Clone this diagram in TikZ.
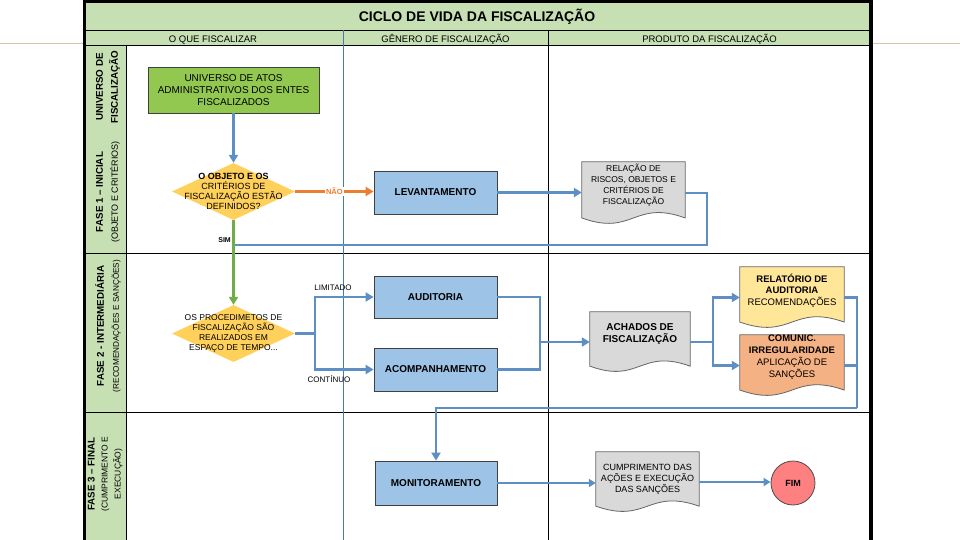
\documentclass[tikz,border=0pt]{standalone}
\usepackage{fontspec}
\setmainfont{Liberation Sans}
\usetikzlibrary{positioning,calc,shapes.geometric,backgrounds,arrows.meta}
\definecolor{bandgreen}{RGB}{198,224,180}
\definecolor{boxgreen}{RGB}{146,200,80}
\definecolor{boxblue}{RGB}{157,195,230}
\definecolor{decisionfill}{RGB}{255,208,90}
\definecolor{docgray}{RGB}{217,217,217}
\definecolor{docyellow}{RGB}{255,230,153}
\definecolor{docorange}{RGB}{244,177,131}
\definecolor{endred}{RGB}{255,128,128}
\definecolor{flowblue}{RGB}{94,143,196}
\definecolor{flowgreen}{RGB}{112,173,71}
\definecolor{floworange}{RGB}{237,125,49}
\definecolor{laneblue}{RGB}{70,120,180}
\definecolor{slideline}{RGB}{215,195,170}

\tikzset{
  procbox/.style={draw=black!75, line width=0.8pt, fill=boxblue, inner sep=0pt,
    minimum width=123pt, minimum height=43pt, font=\fontsize{10}{12}\selectfont\bfseries},
  docnode/.style={inner sep=0pt, align=center},
  docline/.style={draw=black!60, line width=0.8pt},
  decision/.style={diamond, fill=decisionfill, inner sep=0pt, minimum width=123pt, minimum height=57pt},
  dtext/.style={align=center, inner sep=0pt},
  flowline/.style={draw=flowblue, line width=2.6pt},
  flow/.style={flowline, -{Triangle[length=8pt,width=9pt]}},
  thinflow/.style={draw=flowblue, line width=1.8pt, -{Triangle[length=7pt,width=8pt]}},
  lane/.style={draw=black, line width=0.8pt},
  header/.style={font=\fontsize{9.5}{11}\selectfont, inner sep=0pt},
  rowlabel/.style={rotate=90, align=center, inner sep=0pt, font=\fontsize{8.2}{15}\selectfont},
  tag/.style={font=\fontsize{8}{9}\selectfont, inner sep=1pt},
}

% wavy bottom of a document box, drawn behind node #1
\newcommand\docbg[2]{%
  \path[docline, fill=#2] (#1.north west) -- (#1.north east)
    -- ($(#1.north east)!0.9!(#1.south east)$)
    .. controls ($(#1.north)!0.6!(#1.south)$) and ($(#1.north)!1.2!(#1.south)$)
    .. ($(#1.north west)!0.9!(#1.south west)$) -- cycle;}
\newcommand\docraise[2]{\raisebox{#1}[\height][\depth]{\begin{tabular}{@{}c@{}}#2\end{tabular}}}
\newcommand\rowhead[1]{{\fontsize{9.8}{15}\selectfont\bfseries #1}}

\begin{document}
\begin{tikzpicture}[x=1pt,y=-1pt]
\useasboundingbox (0,0) rectangle (960,540);
\begin{scope}[on background layer]
  \fill[white] (0,0) rectangle (960,540);
\end{scope}
\draw[slideline, line width=0.8pt] (0,43.5) -- (83,43.5) (873,43.5) -- (960,43.5);

% bands and lanes
\fill[bandgreen] (83,0) rectangle (871,45);
\fill[bandgreen] (83,45) rectangle (126,540);
\draw[lane] (83,30) -- (871,30);
\draw[lane] (83,45) -- (871,45);
\draw[lane] (83,253) -- (871,253);
\draw[lane] (83,412) -- (871,412);
\draw[lane] (126,45) -- (126,540);
\draw[lane, draw=laneblue] (343,30) -- (343,540);
\draw[lane] (548,30) -- (548,540);
\draw[line width=3pt] (84.5,0) -- (84.5,540);
\draw[line width=4pt] (871,0) -- (871,540);
\draw[line width=3pt] (83,1.5) -- (873,1.5);

% titles
\node[font=\fontsize{14}{16}\selectfont\bfseries] (title) at (477,16.5) {CICLO DE VIDA DA FISCALIZAÇÃO};
\node[header, anchor=base] (hdobj) at (213,42.5) {O QUE FISCALIZAR};
\node[header, anchor=base] (hdgen) at (445.5,42.5) {GÊNERO DE FISCALIZAÇÃO};
\node[header, anchor=base] (hdprod) at (709.5,42.5) {PRODUTO DA FISCALIZAÇÃO};

\node[rowlabel] (lab0) at (108,87) {\rowhead{UNIVERSO DE}\\\rowhead{FISCALIZAÇÃO}};
\node[rowlabel, font=\fontsize{9}{15}\selectfont] (lab1) at (108,192) {\rowhead{FASE 1 – INICIAL}\\(OBJETO E CRITÉRIOS)};
\node[rowlabel] (lab2) at (108,326) {\rowhead{FASE 2 - INTERMEDIÁRIA}\\(RECOMENDAÇÕES E SANÇÕES)};
\node[rowlabel, font=\fontsize{8.5}{13}\selectfont] (lab3) at (105,474) {\rowhead{FASE 3 – FINAL}\\(CUMPRIMENTO E\\EXECUÇÃO)};

% fase 1
\node[draw=black!75, line width=0.8pt, fill=boxgreen, minimum width=171pt, minimum height=46pt,
      inner sep=0pt, align=center, font=\fontsize{10}{12}\selectfont] (univ) at (233.5,90)
  {UNIVERSO DE ATOS\\ADMINISTRATIVOS DOS ENTES\\FISCALIZADOS};
\node[decision] (d1) at (233.5,191.5) {};
\node[dtext, font=\fontsize{9}{10}\selectfont] (d1t) at (d1)
  {\textbf{O OBJETO E OS}\\CRITÉRIOS DE\\FISCALIZAÇÃO ESTÃO\\DEFINIDOS?};
\node[procbox] (lev) at (435.5,192.5) {LEVANTAMENTO};
\node[docnode, minimum width=103pt, minimum height=62pt, font=\fontsize{8.5}{11}\selectfont] (rel) at (633.5,193)
  {\docraise{7pt}{RELAÇÃO DE\\RISCOS, OBJETOS E\\CRITÉRIOS DE\\FISCALIZAÇÃO}};

% fase 2
\node[decision] (d2) at (233.5,333.5) {};
\node[dtext, font=\fontsize{8.5}{10}\selectfont] (d2t) at (d2)
  {OS PROCEDIMETOS DE\\FISCALIZAÇÃO SÃO\\REALIZADOS EM\\ESPAÇO DE TEMPO...};
\node[procbox, minimum height=42pt] (aud) at (435.5,297) {AUDITORIA};
\node[procbox] (acomp) at (435.5,369.5) {ACOMPANHAMENTO};
\node[docnode, minimum width=100pt, minimum height=60pt, font=\fontsize{10}{12}\selectfont\bfseries] (ach) at (640,342)
  {\docraise{8pt}{ACHADOS DE\\FISCALIZAÇÃO}};
\node[docnode, minimum width=104pt, minimum height=61pt, font=\fontsize{9.5}{11}\selectfont] (rela) at (792,297.5)
  {\docraise{6pt}{\textbf{RELATÓRIO DE}\\\textbf{AUDITORIA}\\RECOMENDAÇÕES}};
\node[docnode, minimum width=104pt, minimum height=61pt, font=\fontsize{9.5}{12}\selectfont] (com) at (792,365.5)
  {\docraise{8pt}{\textbf{COMUNIC.}\\\textbf{IRREGULARIDADE}\\APLICAÇÃO DE\\SANÇÕES}};

% fase 3
\node[procbox, minimum width=122pt, minimum height=44pt] (mon) at (436,483) {MONITORAMENTO};
\node[docnode, minimum width=103pt, minimum height=60pt, font=\fontsize{9}{11}\selectfont] (cum) at (647.5,482)
  {\docraise{3pt}{CUMPRIMENTO DAS\\AÇÕES E EXECUÇÃO\\DAS SANÇÕES}};
\node[circle, draw=black!70, line width=0.8pt, fill=endred, minimum size=44pt, inner sep=0pt,
      font=\fontsize{9}{10}\selectfont\bfseries] (fim) at (793,483) {FIM};

\begin{scope}[on background layer]
  \docbg{rel}{docgray}
  \docbg{ach}{docgray}
  \docbg{rela}{docyellow}
  \docbg{com}{docorange}
  \docbg{cum}{docgray}
\end{scope}

% connectors
\coordinate (retA) at (707,245);
\coordinate (split) at (315,333.5);
\coordinate (join1) at (540,342);
\coordinate (join2) at (713,342);
\coordinate (retB) at (857,408);

\draw[flow] (univ.south) -- (d1.north);
\draw[floworange, line width=2.6pt, -{Triangle[length=8pt,width=9pt]}] (d1.east)
  -- node[tag, fill=white, font=\fontsize{7.5}{9}\selectfont\bfseries] (nao) {NÃO} (d1.east -| lev.west);
\draw[flow] (lev.east) -- (lev.east -| rel.west);
\draw[flowline] (rel.east) -| (retA) -- (d1.south |- retA);
\draw[flowgreen, line width=2.6pt, -{Triangle[length=8pt,width=9pt]}] (d1.south) -- (d2.north);
\node[tag, anchor=east, font=\fontsize{7}{8}\selectfont\bfseries] (sim) at (232,240) {SIM};

\draw[flowline] (d2.east) -- (split);
\draw[flow] (split) |- (aud.west);
\draw[flow] (split) |- (acomp.west);
\node[tag] (limitado) at (333,288) {LIMITADO};
\node[tag] (continuo) at (329,379) {CONTÍNUO};

\draw[flowline] (aud.east) -| (join1) |- (acomp.east);
\draw[flow] (join1) -- (ach.west);
\draw[flowline] (ach.east) -- (join2);
\draw[flow] (join2) |- (rela.west);
\draw[flow] (join2) |- (com.west);
\draw[flowline] (rela.east) -| (retB);
\draw[flowline] (com.east) -- (com.east -| retB);
\draw[flow] (retB) -| (mon.north);

\draw[thinflow] (mon.east) -- (mon.east -| cum.west);
\draw[thinflow] (cum.east) -- (cum.east -| fim.west);
\end{tikzpicture}
\end{document}
